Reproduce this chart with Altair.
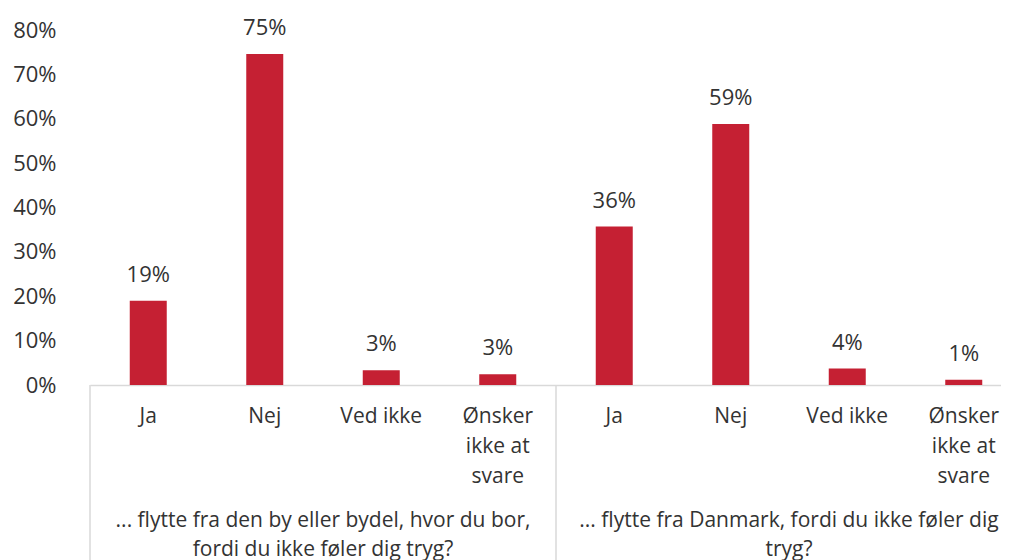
import altair as alt
import pandas as pd

FONT = "Open Sans"
FS = 22
FS_CAT = 21
TEXT = "#333333"
RED = "#C52033"
GRID = "#D9D9D9"

categories = ["Ja", "Nej", "Ved ikke", "Ønsker\nikke at\nsvare"]
group_titles = [
    "... flytte fra den by eller bydel, hvor du bor,\nfordi du ikke føler dig tryg?",
    "... flytte fra Danmark, fordi du ikke føler dig\ntryg?",
]
values_by = [19.0, 74.6, 3.3, 2.4]
values_dk = [35.7, 58.8, 3.7, 1.2]
labels_by = ["19%", "75%", "3%", "3%"]
labels_dk = ["36%", "59%", "4%", "1%"]
y_ticks = [0, 0.1, 0.2, 0.3, 0.4, 0.5, 0.6, 0.7, 0.8]

rows = []
for g, (vals, labs) in enumerate([(values_by, labels_by), (values_dk, labels_dk)]):
    for i, (c, v, l) in enumerate(zip(categories, vals, labs)):
        rows.append(dict(pos=g * 4 + i, cat=c, value=v / 100, label=l))
df = pd.DataFrame(rows)
groups_df = pd.DataFrame({"pos": [1.5, 5.5], "title": group_titles})
sep_df = pd.DataFrame({"pos": [-0.5, 3.5]})

W = 911
H = 355
SLOT = 116.5
xs = alt.Scale(domain=[-0.5, -0.5 + W / SLOT], nice=False, zero=False, padding=0)
ys = alt.Scale(domain=[0, 0.8], nice=False)

x_enc = alt.X("pos:Q", scale=xs,
              axis=alt.Axis(labels=False, ticks=False, grid=False, domain=True,
                            domainColor=GRID, domainWidth=1.5, title=None))
y_enc = alt.Y("value:Q", scale=ys,
              axis=alt.Axis(values=y_ticks, format=".0%", ticks=False, tickSize=0,
                            domain=False, grid=False, title=None, labelPadding=34,
                            labelFont=FONT, labelFontSize=FS, labelColor=TEXT))

bars = alt.Chart(df).mark_bar(size=37, color=RED).encode(x=x_enc, y=y_enc)

vals = alt.Chart(df).mark_text(baseline="alphabetic", dy=-19, font=FONT,
                               fontSize=FS, color=TEXT).encode(
    x=alt.X("pos:Q", scale=xs), y=alt.Y("value:Q", scale=ys), text="label:N")

cats = alt.Chart(df).mark_text(baseline="top", lineBreak="\n", lineHeight=30,
                               font=FONT, fontSize=FS_CAT, color=TEXT).encode(
    x=alt.X("pos:Q", scale=xs), y=alt.value(H + 21), text="cat:N")

titles = alt.Chart(groups_df).mark_text(baseline="top", lineBreak="\n", lineHeight=29,
                                        font=FONT, fontSize=FS_CAT, color=TEXT).encode(
    x=alt.X("pos:Q", scale=xs), y=alt.value(H + 125), text="title:N")

seps = alt.Chart(sep_df).mark_rule(color=GRID, strokeWidth=1.5).encode(
    x=alt.X("pos:Q", scale=xs), y=alt.value(H), y2=alt.value(H + 250))

chart = alt.layer(bars, seps, vals, cats, titles).properties(
    width=W, height=H,
    autosize=alt.AutoSizeParams(type="none"),
    padding={"left": 82, "top": 22, "right": 0, "bottom": 175},
).configure_view(stroke=None)

chart.save("out.html", embed_options={"renderer": "svg", "actions": False})
